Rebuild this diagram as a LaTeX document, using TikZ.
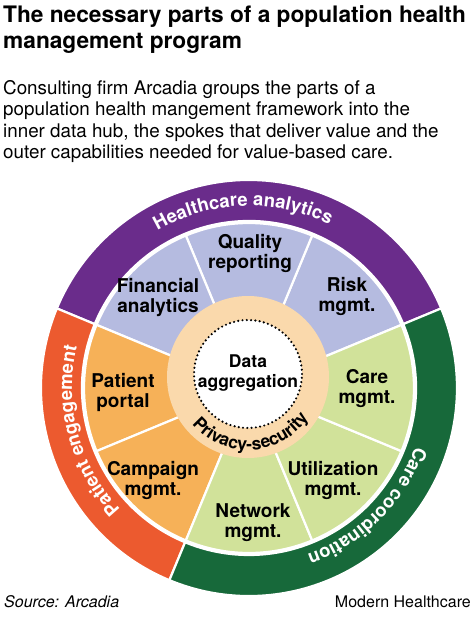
\documentclass[tikz,border=0pt]{standalone}
\usepackage{fontspec}
\setmainfont{TeX Gyre Heros}
\usepackage{tikz}
\usetikzlibrary{positioning,decorations.text}
\usepackage{xcolor}
\definecolor{BandPurple}{HTML}{6A2C8B}
\definecolor{BandOrange}{HTML}{EC5A2F}
\definecolor{BandGreen}{HTML}{17693A}
\definecolor{Lavender}{HTML}{B5BBE0}
\definecolor{SpokeOrange}{HTML}{F6B158}
\definecolor{SpokeGreen}{HTML}{D1E29A}
\definecolor{HubPeach}{HTML}{FAD9AC}

\begin{document}
\begin{tikzpicture}[x=1pt,y=1pt,
    wedge/.style={draw=white,line width=2.2pt,line join=round},
    spoke/.style={font=\fontsize{19}{20}\selectfont\bfseries,align=center,inner sep=0pt},
    band text/.style={decorate,decoration={text along path,text align=center,
        text={|\fontsize{18.5}{18.5}\selectfont\bfseries\color{white}|#1}}}]
  \useasboundingbox (0,0) rectangle (474,-632);
  \node[anchor=north west,inner sep=0pt,align=left,font=\fontsize{22.7}{26}\selectfont\bfseries] (title) at (3,-5)
    {The necessary parts of a population health\\management program};
  \node[below right=26.7pt and 0pt of title.south west,inner sep=0pt,align=left,font=\fontsize{18.8}{21.5}\selectfont] (intro)
    {Consulting firm Arcadia groups the parts of a\\population health mangement framework into the\\inner data hub, the spokes that deliver value and the\\outer capabilities needed for value-based care.};

  \coordinate (c) at (249,-388);
  \coordinate (hub) at (248,-377);
  \coordinate (core) at (248,-374);

  % outer capabilities
  \filldraw[wedge,fill=BandPurple] ([shift={(22.5:208)}]c) arc[start angle=22.5,end angle=157.5,radius=208]
    -- ([shift={(157.5:167)}]c) arc[start angle=157.5,end angle=22.5,radius=167] -- cycle;
  \filldraw[wedge,fill=BandOrange] ([shift={(157.5:208)}]c) arc[start angle=157.5,end angle=247.5,radius=208]
    -- ([shift={(247.5:167)}]c) arc[start angle=247.5,end angle=157.5,radius=167] -- cycle;
  \filldraw[wedge,fill=BandGreen] ([shift={(247.5:208)}]c) arc[start angle=247.5,end angle=382.5,radius=208]
    -- ([shift={(382.5:167)}]c) arc[start angle=382.5,end angle=247.5,radius=167] -- cycle;

  % spokes
  \foreach \a/\col in {22.5/Lavender,67.5/Lavender,112.5/Lavender,157.5/SpokeOrange,202.5/SpokeOrange,
      247.5/SpokeGreen,292.5/SpokeGreen,337.5/SpokeGreen}
    \filldraw[wedge,fill=\col] (c) -- ([shift={(\a:165)}]c) arc[start angle=\a,delta angle=45,radius=165] -- cycle;

  % data hub
  \fill[HubPeach] (hub) circle[radius=81];
  \draw[fill=white,line width=2.4pt,line cap=round,dash pattern=on 0pt off 4.3pt] (core) circle[radius=54];

  \path[band text=Healthcare analytics] ([shift={(152:182)}]c) arc[start angle=152,end angle=32,radius=182];
  \path[band text=Patient engagement] ([shift={(255:177)}]c) arc[start angle=255,end angle=135,radius=177];
  \path[band text=Care coordination] ([shift={(15:176)}]c) arc[start angle=15,end angle=-105,radius=176];
  \path[decorate,decoration={text along path,text align=center,
      text={|\fontsize{17.5}{17.5}\selectfont\bfseries|Privacy-security}}]
    ([shift={(198:73)}]hub) arc[start angle=198,end angle=348,radius=73];

  \node[spoke] (quality) at (250,-253) {Quality\\reporting};
  \node[spoke] (financial) at (158,-297) {Financial\\analytics};
  \node[spoke] (risk) at (347,-296) {Risk\\mgmt.};
  \node[spoke] (care) at (367,-389) {Care\\mgmt.};
  \node[spoke] (portal) at (123,-392) {Patient\\portal};
  \node[spoke] (campaign) at (153,-480) {Campaign\\mgmt.};
  \node[spoke] (utilization) at (333,-480) {Utilization\\mgmt.};
  \node[spoke] (network) at (253,-523) {Network\\mgmt.};
  \node[spoke,font=\fontsize{17.5}{19.5}\selectfont\bfseries] (data) at (248,-373) {Data\\aggregation};

  \node[anchor=base west,inner sep=0pt,font=\fontsize{16}{18}\selectfont\itshape] (source) at (4,-607) {Source: Arcadia};
  \node[anchor=base east,inner sep=0pt,font=\fontsize{16}{18}\selectfont] (brand) at (471,-607) {Modern Healthcare};
\end{tikzpicture}
\end{document}
